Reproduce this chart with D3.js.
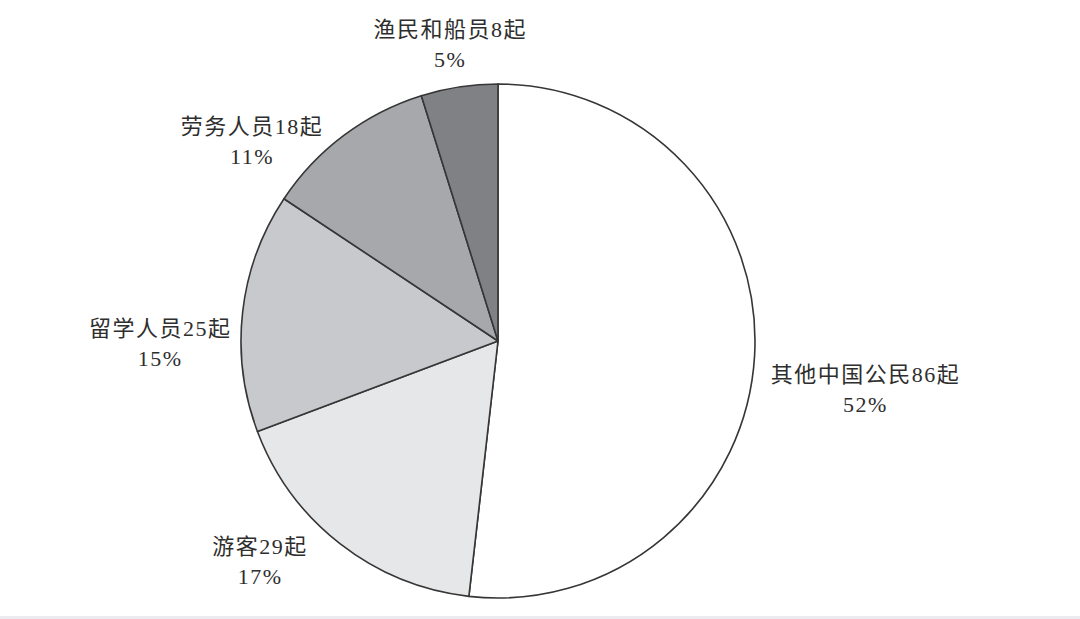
<!DOCTYPE html>
<html>
<head>
<meta charset="utf-8">
<script src="https://cdn.jsdelivr.net/npm/d3@7"></script>
<style>
	html, body { margin: 0; padding: 0; background: #fff; }
	svg { display: block; }
	.lbl { font-family: "Liberation Serif", "Noto Sans CJK SC", serif; font-size: 22px; fill: #2e2e2e; letter-spacing: 1.5px; }
</style>
</head>
<body>
<svg id="pie-svg" width="1080" height="619"></svg>
<script>
(function(){

	// 中国公民海外安全事件 (起)
	var categories = ["其他中国公民", "游客", "留学人员", "劳务人员", "渔民和船员"];
	var counts = [86, 29, 25, 18, 8];
	var fills = ["#ffffff", "#e6e7e9", "#c8c9cc", "#a7a8ab", "#808184"];

	var width = 1080, height = 619;
	var cx = 498, cy = 341, radius = 257;
	var labelRadius = 330;
	// nudge each label block away from its plain centroid
	var labelNudge = {
		"其他中国公民": [38, 29],
		"游客": [-35, -40],
		"留学人员": [-10, 39],
		"劳务人员": [-48, 64],
		"渔民和船员": [2, 29]
	};

	var total = d3.sum(counts);
	var data = [];
	for(var i = 0; i < categories.length; i++){
		data.push({name: categories[i], value: counts[i], fill: fills[i]});
	}

	var svg = d3.select("#pie-svg");

	// faint strip at the bottom of the page
	svg.append("rect")
		.attr("x", 0)
		.attr("y", height - 3)
		.attr("width", width)
		.attr("height", 3)
		.attr("fill", "#ebebf0");

	var g = svg.append("g")
		.attr("transform", "translate(" + cx + "," + cy + ")");

	var pie = d3.pie()
		.sort(null)
		.value(function(d){ return d.value; });

	var arc = d3.arc()
		.innerRadius(0)
		.outerRadius(radius);

	var labelArc = d3.arc()
		.innerRadius(labelRadius)
		.outerRadius(labelRadius);

	var arcs = pie(data);

	g.selectAll("path.slice")
		.data(arcs)
		.enter().append("path")
			.attr("class", "slice")
			.attr("d", arc)
			.attr("fill", function(d){ return d.data.fill; })
			.attr("stroke", "#363636")
			.attr("stroke-width", 1.6)
			.attr("stroke-linejoin", "round");

	var labels = g.selectAll("g.label")
		.data(arcs)
		.enter().append("g")
			.attr("class", "label")
			.attr("transform", function(d){
				var c = labelArc.centroid(d);
				var n = labelNudge[d.data.name];
				return "translate(" + (c[0] + n[0]) + "," + (c[1] + n[1]) + ")";
			});

	labels.append("text")
		.attr("class", "lbl")
		.attr("text-anchor", "middle")
		.attr("y", -7)
		.text(function(d){ return d.data.name + d.data.value + "起"; });

	labels.append("text")
		.attr("class", "lbl")
		.attr("text-anchor", "middle")
		.attr("y", 23)
		.text(function(d){ return Math.round(d.data.value / total * 100) + "%"; });

})();
</script>
</body>
</html>
